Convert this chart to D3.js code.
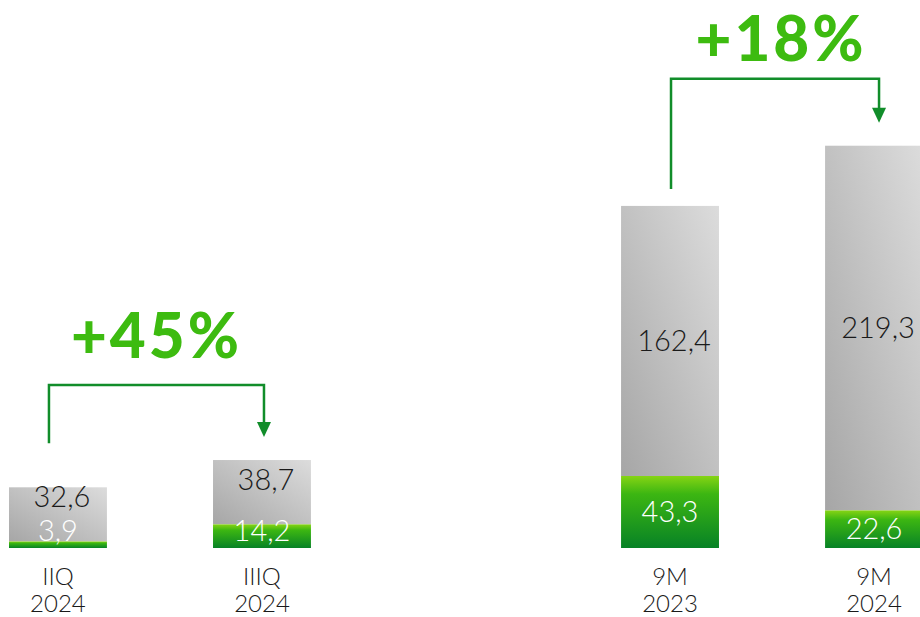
<!DOCTYPE html>
<html><head><meta charset="utf-8">
<script src="https://cdn.jsdelivr.net/npm/d3@7"></script>
<style>
html,body{margin:0;padding:0;background:#fff;}
svg{display:block;}
</style></head>
<body>
<svg id="chart" width="920" height="617"></svg>
<script>
const categories = ["IIQ 2024", "IIIQ 2024", "", "9M 2023", "9M 2024"];
const labelLines = [["IIQ","2024"],["IIIQ","2024"],[],["9M","2023"],["9M","2024"]];
const greenValues = [3.9, 14.2, null, 43.3, 22.6];
const grayValues = [32.6, 38.7, null, 162.4, 219.3];
const greenLabels = ["3,9", "14,2", "", "43,3", "22,6"];
const grayLabels = ["32,6", "38,7", "", "162,4", "219,3"];
const growth = [
  {from: "IIQ 2024", to: "IIIQ 2024", label: "+45%"},
  {from: "9M 2023", to: "9M 2024", label: "+18%"}
];

const svg = d3.select("#chart");
const defs = svg.append("defs");
const gg = defs.append("linearGradient").attr("id","gray").attr("x1","0").attr("y1","1").attr("x2","1").attr("y2","0");
gg.append("stop").attr("offset","0").attr("stop-color","#a6a6a6");
gg.append("stop").attr("offset","1").attr("stop-color","#dcdcdc");
const gr = defs.append("linearGradient").attr("id","green").attr("x1","0").attr("y1","0").attr("x2","0").attr("y2","1");
gr.append("stop").attr("offset","0").attr("stop-color","#86d414");
gr.append("stop").attr("offset","0.25").attr("stop-color","#3cb612");
gr.append("stop").attr("offset","1").attr("stop-color","#078226");

const x = d3.scaleBand().domain(categories).range([9, 923]).paddingInner(0.52).paddingOuter(0);
const y = d3.scaleLinear().domain([0, 250]).range([548, 548 - 250*1.663]);

const font = "Lato, 'Open Sans', sans-serif";
const data = categories.map((c,i)=>({c, i, g: greenValues[i], s: grayValues[i]})).filter(d=>d.g!==null);

svg.selectAll("rect.gray").data(data).join("rect")
  .attr("x", d=>x(d.c)).attr("width", x.bandwidth())
  .attr("y", d=>y(d.g+d.s)).attr("height", d=>y(d.g)-y(d.g+d.s))
  .attr("fill","url(#gray)");
svg.selectAll("rect.green").data(data).join("rect")
  .attr("x", d=>x(d.c)).attr("width", x.bandwidth())
  .attr("y", d=>y(d.g)).attr("height", d=>y(0)-y(d.g))
  .attr("fill","url(#green)");

svg.selectAll("text.gl").data(data).join("text")
  .attr("x", d=>x(d.c)+x.bandwidth()/2+4)
  .attr("y", d=>Math.min((y(d.g)+y(d.g+d.s))/2, y(d.g)-45))
  .attr("dy","0.35em").attr("text-anchor","middle")
  .attr("font-family",font).attr("font-weight",300).attr("font-size",29)
  .attr("fill","#1a1a1a").text(d=>grayLabels[d.i]);
svg.selectAll("text.grl").data(data).join("text")
  .attr("x", d=>x(d.c)+x.bandwidth()/2)
  .attr("y", d=>Math.min((y(0)+y(d.g))/2, y(0)-17))
  .attr("dy","0.35em").attr("text-anchor","middle")
  .attr("font-family",font).attr("font-weight",300).attr("font-size",29)
  .attr("fill","#ffffff").text(d=>greenLabels[d.i]);

data.forEach(d=>{
  const t = svg.append("text").attr("text-anchor","middle")
    .attr("font-family",font).attr("font-weight",300).attr("font-size",24).attr("fill","#1a1a1a");
  labelLines[d.i].forEach((ln,k)=>{
    t.append("tspan").attr("x", x(d.c)+x.bandwidth()/2).attr("y", 585 + k*27).text(ln);
  });
});

const dark = "#118d2a";
const byCat = Object.fromEntries(data.map(d=>[d.c,d]));
growth.forEach((g,gi)=>{
  const a = byCat[g.from], b = byCat[g.to];
  const ax = x(a.c)+x.bandwidth()/2 + (gi===0 ? -9 : 1);
  const bx = x(b.c)+x.bandwidth()/2 + (gi===0 ? 2 : 5);
  const aTop = y(a.g+a.s), bTop = y(b.g+b.s);
  const yStart = gi===0 ? aTop-44 : aTop-17;
  const yBar = bTop - (gi===0 ? 75 : 67);
  const tip = bTop - 23;
  svg.append("path")
    .attr("d", `M${ax},${yStart}V${yBar}H${bx}V${tip-12}`)
    .attr("fill","none").attr("stroke",dark).attr("stroke-width",2.5);
  svg.append("path")
    .attr("d", `M${bx-7},${tip-15}L${bx+7},${tip-15}L${bx},${tip}Z`)
    .attr("fill",dark);
  svg.append("text").attr("x",(ax+bx)/2 + (gi===0 ? 0 : 6)).attr("y",yBar-(gi===0 ? 27 : 18))
    .attr("text-anchor","middle").attr("font-family",font).attr("font-weight",900)
    .attr("font-size",62).attr("letter-spacing",3).attr("fill","#3dbb10").text(g.label);
});
</script>
</body></html>
